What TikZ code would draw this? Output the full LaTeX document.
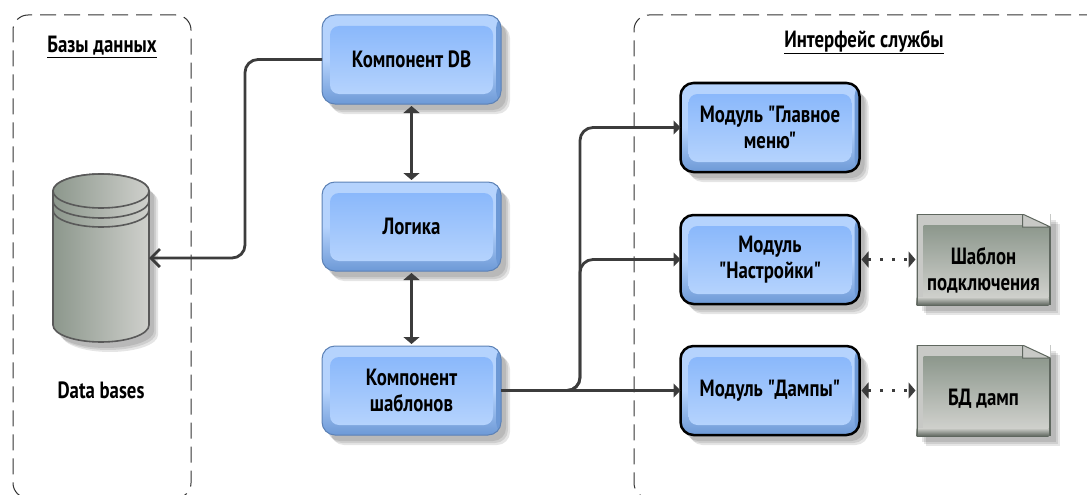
\documentclass[tikz,border=0pt]{standalone}
\usepackage{fontspec}
\setmainfont[FakeStretch=0.8,Ligatures=TeXOff]{PT Sans}
\usetikzlibrary{positioning,arrows.meta,shadows}
\definecolor{blueedge}{HTML}{6D99D6}
\definecolor{bluelight}{HTML}{B5D3FD}
\definecolor{bluetop}{HTML}{8AB8FB}
\definecolor{greytop}{HTML}{8C978C}
\definecolor{greybottom}{HTML}{CFD0CC}
\definecolor{greyedge}{HTML}{5F675F}
\definecolor{greylight}{HTML}{C8C9C6}
\definecolor{wire}{HTML}{3C3C3C}
\tikzset{
softshadow/.style={
    drop shadow={shadow xshift=5pt,shadow yshift=-6pt,fill=black,opacity=.10},
    drop shadow={shadow xshift=7pt,shadow yshift=-8pt,fill=black,opacity=.10},
    drop shadow={shadow xshift=9pt,shadow yshift=-10pt,fill=black,opacity=.10},
},
box/.style={
    softshadow, rounded corners=13pt, minimum width=179pt, minimum height=89pt,
    inner sep=0pt, outer sep=0pt, align=center, font=\fontsize{23.5}{26}\selectfont\bfseries,
    fill=blueedge, draw=blueedge!85!black, line width=1pt,
    path picture={
        \shade[top color=bluelight, bottom color=blueedge, middle color=bluelight]
            (path picture bounding box.north west) rectangle (path picture bounding box.south east);
        \fill[blueedge] ([xshift=-5pt]path picture bounding box.north east)
            rectangle (path picture bounding box.south east);
        \shade[top color=bluetop, bottom color=bluelight, rounded corners=9pt]
            ([shift={(8pt,-11pt)}]path picture bounding box.north west)
            rectangle ([shift={(-8pt,10pt)}]path picture bounding box.south east);
    },
},
module/.style={box, draw=black, line width=2.5pt},
doc/.style={
    softshadow, minimum width=134pt, minimum height=91pt, inner sep=0pt, outer sep=0pt,
    align=center, font=\fontsize{23.5}{26}\selectfont\bfseries, fill=greyedge,
    path picture={
        \fill[greylight] (path picture bounding box.north west)
            rectangle ([shift={(-2pt,8pt)}]path picture bounding box.south east);
        \shade[top color=greybottom, bottom color=greyedge]
            ([yshift=8pt]path picture bounding box.south west)
            rectangle ([xshift=-2pt]path picture bounding box.south east);
        \shade[top color=greytop, bottom color=greybottom]
            ([shift={(7pt,-11pt)}]path picture bounding box.north west)
            rectangle ([shift={(-2pt,8pt)}]path picture bounding box.south east);
        \fill[white] ([xshift=-28pt]path picture bounding box.north east)
            -- (path picture bounding box.north east)
            -- ([yshift=-13pt]path picture bounding box.north east) -- cycle;
        \fill[greylight] ([xshift=-28pt]path picture bounding box.north east)
            -- ([shift={(-28pt,-13pt)}]path picture bounding box.north east)
            -- ([yshift=-13pt]path picture bounding box.north east) -- cycle;
        \draw[greyedge, line width=1pt] ([xshift=-28pt]path picture bounding box.north east)
            -- ([shift={(-28pt,-13pt)}]path picture bounding box.north east)
            -- ([yshift=-13pt]path picture bounding box.north east) -- cycle;
        \draw[greyedge, line width=2pt] (path picture bounding box.south west)
            -- (path picture bounding box.north west)
            -- ([xshift=-28pt]path picture bounding box.north east);
    },
},
zone/.style={draw=black!80, line width=1pt, dash pattern=on 16pt off 8pt, rounded corners=15pt, inner sep=0pt},
title/.style={font=\fontsize{23.5}{26}\selectfont\bfseries},
wireline/.style={draw=wire, line width=2.8pt, rounded corners=13pt},
feed/.style={wireline, -{Triangle[length=7pt,width=14pt]}},
dblarrow/.style={draw=wire, line width=2.8pt, {Triangle[length=7pt,width=16pt]}-{Triangle[length=7pt,width=16pt]}, shorten <=2pt, shorten >=2pt},
dotarrow/.style={draw=wire, line width=2.8pt, dash pattern=on 3pt off 9pt, {Triangle[length=7pt,width=16pt]}-{Triangle[length=7pt,width=16pt]}, shorten <=2pt, shorten >=1pt},
store/.style={minimum width=96pt, minimum height=168pt, inner sep=0pt, outer sep=0pt},
storeline/.style={draw=black!65, line width=1.6pt},
}
\begin{document}
\begin{tikzpicture}[x=1pt,y=-1pt]
        \useasboundingbox (0,0) rectangle (1087,495);
        \clip (0,0) rectangle (1087,495);

        \node[zone,minimum width=178pt,minimum height=483pt] (dbzone) at (102,256.5) {};
        \node[zone,minimum width=500pt,minimum height=483pt] (svczone) at (884,256.5) {};
        \node[title] (dbtitle) at (102,47) {\underline{Базы данных}};
        \node[title] (svctitle) at (864,42) {\underline{Интерфейс службы}};

        \node[box] (cdb) at (411.5,59.5) {Компонент DB};
        \node[box,below=78pt of cdb] (logic) {Логика};
        \node[box,below=75pt of logic] (tpl) {Компонент\\шаблонов};

        \node[module] (menu) at (770,127.5) {Модуль "Главное\\меню"};
        \node[module,below=43pt of menu] (settings) {Модуль\\"Настройки"};
        \node[module,below=42pt of settings] (dump) {Модуль "Дампы"};
        \node[doc,right=57pt of settings] (conn) {\mbox{}\\[13pt]Шаблон\\подключения};
        \node[doc,right=57pt of dump] (dbdump) {\mbox{}\\[7pt]БД дамп};

        \node[store] (db) at (101,258) {};
        \draw[storeline,softshadow,left color=greytop,right color=greybottom]
            ([yshift=-17pt]db.north west) -- ([yshift=17pt]db.south west)
            arc[start angle=180,end angle=360,x radius=48pt,y radius=17pt]
            -- ([yshift=-17pt]db.north east)
            arc[start angle=0,end angle=180,x radius=48pt,y radius=17pt] -- cycle;
        \draw[storeline,left color=greytop,right color=greybottom] ([yshift=-17pt]db.north) ellipse[x radius=48pt,y radius=17pt];
        \draw[storeline] ([yshift=-27pt]db.north west) arc[start angle=180,end angle=360,x radius=48pt,y radius=17pt];
        \draw[storeline] ([yshift=-36pt]db.north west) arc[start angle=180,end angle=360,x radius=48pt,y radius=17pt];
        \node[title,below=36pt of db] (dblabel) {Data bases};

        \coordinate (dbbus) at (245,160);
        \coordinate (tplbus) at (580,300);

        \draw[draw=wire,line width=2.8pt,rounded corners=13pt,-{Straight Barb[length=9pt,width=18pt]}] (cdb.west) -| (dbbus) |- (db.east);
        \draw[dblarrow] (cdb) -- (logic);
        \draw[dblarrow] (logic) -- (tpl);
        \draw[feed] (tpl.east) -| (tplbus) |- (menu.west);
        \draw[feed] (tpl.east) -| (tplbus) |- (settings.west);
        \draw[feed] (tpl.east) -- (dump.west);
        \draw[dotarrow] (settings) -- (conn);
        \draw[dotarrow] (dump) -- (dbdump);
    \end{tikzpicture}
\end{document}
